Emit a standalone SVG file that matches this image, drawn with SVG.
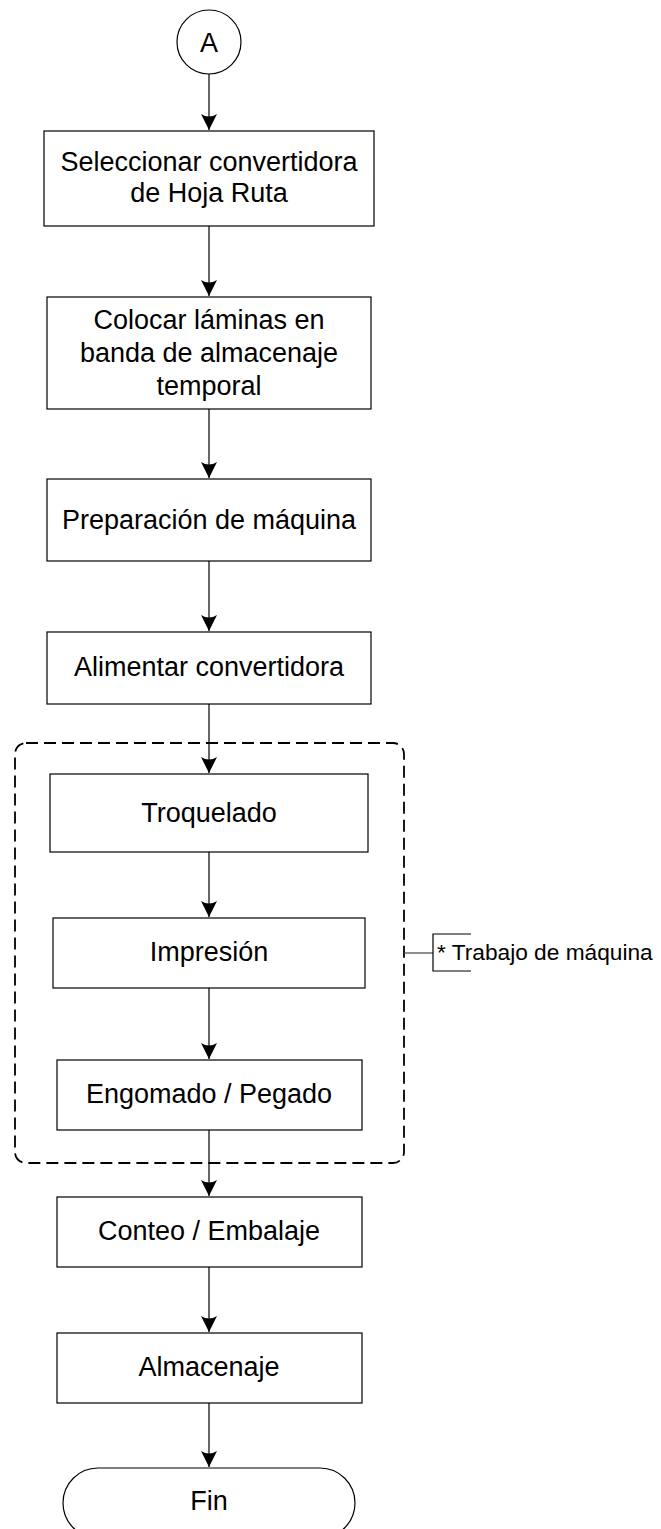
<svg xmlns="http://www.w3.org/2000/svg" width="661" height="1529" viewBox="0 0 661 1529">
<style>
.box{fill:#fff;stroke:#000;stroke-width:1.2}
.lbl{font-family:"Liberation Sans",Arial,sans-serif;font-size:27px;fill:#000;text-anchor:middle}
.ann{font-family:"Liberation Sans",Arial,sans-serif;font-size:22.7px;fill:#000}
.edge{fill:none;stroke:#000;stroke-width:1.2}
.grp{fill:none;stroke:#000;stroke-width:1.8;stroke-dasharray:12 6}
</style>
<defs>
<marker id="arr" markerUnits="userSpaceOnUse" markerWidth="20" markerHeight="20" viewBox="-10 -18 20 20" refX="0" refY="0" orient="auto-start-reverse" overflow="visible">
<path d="M0,0 L-8,-16 Q0,-11 8,-16 Z" fill="#000" transform="rotate(-90)"/>
</marker>
</defs>
<rect width="661" height="1529" fill="#fff"/>
<g id="group-machine">
<rect class="grp" x="15" y="743" width="389" height="420" rx="11"/>
</g>
<g id="connectors">
<path class="edge" d="M209,74 V130" marker-end="url(#arr)"/>
<path class="edge" d="M209,226 V296" marker-end="url(#arr)"/>
<path class="edge" d="M209,409 V478" marker-end="url(#arr)"/>
<path class="edge" d="M209,561 V631" marker-end="url(#arr)"/>
<path class="edge" d="M209,704 V773" marker-end="url(#arr)"/>
<path class="edge" d="M209,852 V917" marker-end="url(#arr)"/>
<path class="edge" d="M209,988 V1059" marker-end="url(#arr)"/>
<path class="edge" d="M209,1130 V1196" marker-end="url(#arr)"/>
<path class="edge" d="M209,1267 V1332" marker-end="url(#arr)"/>
<path class="edge" d="M209,1403 V1467" marker-end="url(#arr)"/>
</g>
<g id="nA">
<circle cx="209" cy="42" r="32" fill="#fff" stroke="#000" stroke-width="1.2"/>
<text class="lbl" x="209" y="52">A</text>
</g>
<g id="n1">
<rect class="box" x="44" y="131" width="330" height="95"/>
<text class="lbl" x="209" y="171">Seleccionar convertidora</text>
<text class="lbl" x="209" y="202">de Hoja Ruta</text>
</g>
<g id="n2">
<rect class="box" x="47" y="297" width="324" height="112"/>
<text class="lbl" x="209" y="329">Colocar láminas en</text>
<text class="lbl" x="209" y="362">banda de almacenaje</text>
<text class="lbl" x="209" y="395">temporal</text>
</g>
<g id="n3">
<rect class="box" x="47" y="479" width="324" height="82"/>
<text class="lbl" x="209" y="529">Preparación de máquina</text>
</g>
<g id="n4">
<rect class="box" x="47" y="632" width="324" height="72"/>
<text class="lbl" x="209" y="676">Alimentar convertidora</text>
</g>
<g id="n5">
<rect class="box" x="50" y="774" width="318" height="78"/>
<text class="lbl" x="209" y="822">Troquelado</text>
</g>
<g id="n6">
<rect class="box" x="53" y="918" width="312" height="70"/>
<text class="lbl" x="209" y="961">Impresión</text>
</g>
<g id="n7">
<rect class="box" x="57" y="1060" width="305" height="70"/>
<text class="lbl" x="209" y="1103">Engomado / Pegado</text>
</g>
<g id="n8">
<rect class="box" x="57" y="1197" width="305" height="70"/>
<text class="lbl" x="209" y="1240">Conteo / Embalaje</text>
</g>
<g id="n9">
<rect class="box" x="57" y="1333" width="305" height="70"/>
<text class="lbl" x="209" y="1376">Almacenaje</text>
</g>
<g id="nFin">
<rect class="box" x="63" y="1468" width="292" height="70" rx="35"/>
<text class="lbl" x="209" y="1510">Fin</text>
</g>
<g id="annotation">
<path d="M404,953 H433" fill="none" stroke="#404040" stroke-width="1.2"/>
<path d="M471,934 H433 V971 H471" fill="none" stroke="#000" stroke-width="1.2"/>
<text class="ann" x="437" y="960">* Trabajo de máquina</text>
</g>
</svg>
